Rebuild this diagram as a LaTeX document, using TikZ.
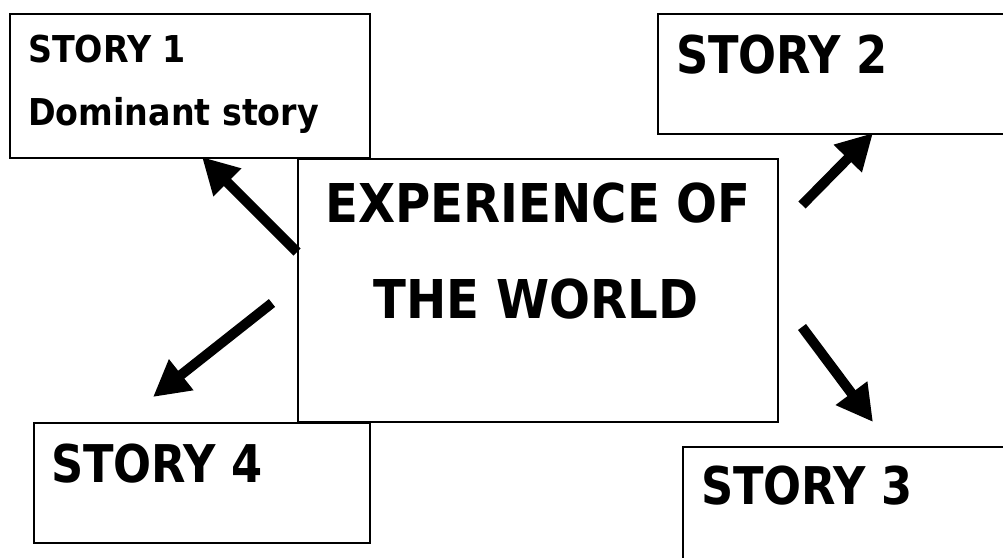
\documentclass[tikz,border=0pt]{standalone}
\usepackage{fontspec}
\setmainfont{DejaVu Sans}
\usetikzlibrary{arrows.meta}
\tikzset{
  box/.style={draw=black, line width=1.7pt, rectangle, anchor=north west, inner sep=0pt},
  bigtxt/.style={font=\bfseries\fontsize{52}{60}\selectfont, anchor=base west, inner sep=0pt},
  smalltxt/.style={font=\bfseries\fontsize{37}{44}\selectfont, anchor=base west, inner sep=0pt},
  midtxt/.style={font=\bfseries\fontsize{53.5}{62}\selectfont, anchor=base, inner sep=0pt},
  fatarrow/.style={line width=10pt, -{Triangle[length=36pt,width=37pt]}}
}
\newcommand{\sq}[1]{\scalebox{0.9}[1]{#1}}
\newcommand{\sqb}[1]{\scalebox{0.86}[1]{#1}}
\begin{document}
\begin{tikzpicture}[x=1pt,y=-1pt]
\useasboundingbox (0,0) rectangle (1003,557);
\clip (0,0) rectangle (1003,557);
% boxes
\node[box, minimum width=360pt, minimum height=144pt] (s1) at (9,13) {};
\node[box, minimum width=360pt, minimum height=120pt] (s2) at (657,13) {};
\node[box, minimum width=480pt, minimum height=263pt] (c) at (297,158) {};
\node[box, minimum width=336pt, minimum height=120pt] (s4) at (33,422) {};
\node[box, minimum width=340pt, minimum height=130pt] (s3) at (682,446) {};
% texts
\node[smalltxt] (t1a) at (28,62) {\sq{STORY 1}};
\node[smalltxt] (t1b) at (28,125) {\sq{Dominant story}};
\node[bigtxt] (t2) at (676,73) {\sqb{STORY 2}};
\node[midtxt] (ta) at (538,222) {\sq{EXPERIENCE OF}};
\node[midtxt] (tb) at (536,318) {\sq{THE WORLD}};
\node[bigtxt] (t4) at (51,482) {\sqb{STORY 4}};
\node[bigtxt] (t3) at (701,504) {\sqb{STORY 3}};
% arrow end points
\coordinate (a1s) at (297,252);
\coordinate (a1e) at (202,157);
\coordinate (a2s) at (802,205);
\coordinate (a2e) at (873,133);
\coordinate (a3s) at (802,327);
\coordinate (a3e) at (873,422);
\coordinate (a4s) at (272,303);
\coordinate (a4e) at (153,397);
\draw[fatarrow] (a1s) -- (a1e);
\draw[fatarrow] (a2s) -- (a2e);
\draw[fatarrow] (a3s) -- (a3e);
\draw[fatarrow] (a4s) -- (a4e);
\end{tikzpicture}
\end{document}
